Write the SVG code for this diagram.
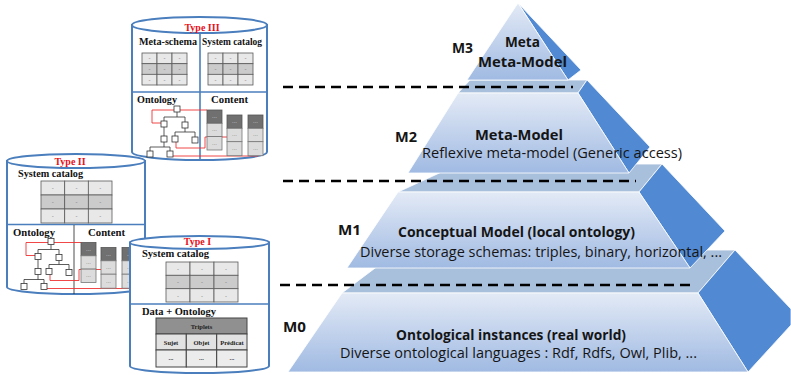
<svg xmlns="http://www.w3.org/2000/svg" width="791" height="375" viewBox="0 0 791 375">
<defs>
<linearGradient id="front" x1="0" y1="0" x2="0" y2="1">
<stop offset="0" stop-color="#e3eaf6"/>
<stop offset="1" stop-color="#a0bae2"/>
</linearGradient>
<style>
.front{fill:url(#front);stroke:#fff;stroke-width:0.8}
.top{fill:#a9c0dd;stroke:#fff;stroke-width:0.8}
.side{fill:#5189d2;stroke:#fff;stroke-width:0.8}
.dash{stroke:#000;stroke-width:2.6;stroke-dasharray:10 6;fill:none}
.pb{font-family:"Open Sans","Noto Sans",sans-serif;font-weight:bold;font-size:14.5px;fill:#151515}
.pr{font-family:"Open Sans","Noto Sans",sans-serif;font-size:14px;fill:#151515}
.cyl{fill:#fff;stroke:#4a7ebd;stroke-width:2}
.div{stroke:#4a7ebd;stroke-width:1.6}
.ttl{font-family:"Liberation Serif",serif;font-weight:bold;font-size:10px;fill:#e8101a;text-anchor:middle}
.lbl{font-family:"Liberation Serif",serif;font-weight:bold;font-size:10px;fill:#111}
.c1{fill:#e8e8e8;stroke:#5a5a5a;stroke-width:0.8}
.c2{fill:#cbcbcb;stroke:#5a5a5a;stroke-width:0.8}
.gd{font-family:"Liberation Sans",sans-serif;font-size:6px;fill:#777;text-anchor:middle}
.bx{fill:#fff;stroke:#333;stroke-width:0.8}
.tl{stroke:#333;stroke-width:0.8;fill:none}
.rl{stroke:#e33;stroke-width:0.9;fill:none}
.kd{fill:#707070;stroke:#555;stroke-width:0.8}
.kl{fill:#dcdcdc;stroke:#777;stroke-width:0.8}
.dd{font-family:"Liberation Sans",sans-serif;font-size:6px;fill:#ddd;text-anchor:middle}
.dl{font-family:"Liberation Sans",sans-serif;font-size:6px;fill:#777;text-anchor:middle}
.tb{font-family:"Liberation Serif",serif;font-weight:bold;font-size:6.5px;fill:#222;text-anchor:middle}
</style>
</defs>

<!-- Pyramid -->
<g id="level-M0">
<polygon class="top" points="399,250 735,250 698,293 342,293"/>
<polygon class="side" points="698,293 735,250 791,309 791,325 748,372"/>
<polygon class="front" points="342,293 698,293 748,372 288,372"/>
<text class="pb" x="396" y="340" textLength="230" lengthAdjust="spacingAndGlyphs">Ontological instances (real world)</text>
<text class="pr" x="340" y="358" textLength="357" lengthAdjust="spacingAndGlyphs">Diverse ontological languages : Rdf, Rdfs, Owl, Plib, ...</text>
<text class="pb" x="283" y="332" textLength="23" lengthAdjust="spacingAndGlyphs">M0</text>
</g>
<g id="level-M1">
<polygon class="top" points="459,164 662,164 639,192 398,192"/>
<polygon class="side" points="639,192 662,164 725,231 690,268"/>
<polygon class="front" points="398,192 639,192 690,268 347,268"/>
<text class="pb" x="398" y="237" textLength="237" lengthAdjust="spacingAndGlyphs">Conceptual Model (local ontology)</text>
<text class="pr" x="360" y="257" textLength="362" lengthAdjust="spacingAndGlyphs">Diverse storage schemas: triples, binary, horizontal, ...</text>
<text class="pb" x="338" y="235" textLength="23" lengthAdjust="spacingAndGlyphs">M1</text>
</g>
<g id="level-M2">
<polygon class="top" points="470,80 587,80 578,93 458,93"/>
<polygon class="side" points="578,93 587,80 650,147 629,173"/>
<polygon class="front" points="458,93 578,93 629,173 408,173"/>
<text class="pb" x="475" y="140" textLength="88" lengthAdjust="spacingAndGlyphs">Meta-Model</text>
<text class="pr" x="422" y="158" textLength="260" lengthAdjust="spacingAndGlyphs">Reflexive meta-model (Generic access)</text>
<text class="pb" x="395" y="142" textLength="22" lengthAdjust="spacingAndGlyphs">M2</text>
</g>
<g id="level-M3">
<polygon class="side" points="518,3 581,70 568,80"/>
<polygon class="front" points="518,3 568,80 467,80"/>
<text class="pb" x="505" y="47" textLength="35" lengthAdjust="spacingAndGlyphs">Meta</text>
<text class="pb" x="478" y="67" textLength="89" lengthAdjust="spacingAndGlyphs">Meta-Model</text>
<text class="pb" x="452" y="53" textLength="21" lengthAdjust="spacingAndGlyphs">M3</text>
</g>

<g id="connectors">
<line class="dash" x1="283" y1="87" x2="573" y2="87"/>
<line class="dash" x1="283" y1="181" x2="636" y2="181"/>
<line class="dash" x1="280" y1="285" x2="696" y2="285"/>
</g>

<!-- Type III -->
<g id="type-III">
<path class="cyl" d="M132,25 V152 A67.5,8 0 0 0 267,152 V25 Z"/>
<ellipse class="cyl" cx="199.5" cy="25" rx="67.5" ry="8"/>
<line class="div" x1="132" y1="92" x2="267" y2="92"/>
<line class="div" x1="200" y1="33" x2="200" y2="159"/>
<text class="ttl" x="202" y="31">Type III</text>
<text class="lbl" x="139" y="45" textLength="58" lengthAdjust="spacingAndGlyphs">Meta-schema</text>
<text class="lbl" x="202" y="45" textLength="60" lengthAdjust="spacingAndGlyphs">System catalog</text>
<g>
<rect class="c1" x="142" y="53" width="15" height="10.7"/><rect class="c1" x="157" y="53" width="15" height="10.7"/><rect class="c1" x="172" y="53" width="15" height="10.7"/>
<rect class="c2" x="142" y="63.7" width="15" height="10.7"/><rect class="c2" x="157" y="63.7" width="15" height="10.7"/><rect class="c2" x="172" y="63.7" width="15" height="10.7"/>
<rect class="c1" x="142" y="74.3" width="15" height="10.7"/><rect class="c1" x="157" y="74.3" width="15" height="10.7"/><rect class="c1" x="172" y="74.3" width="15" height="10.7"/>
<text class="gd" x="149.5" y="60">-</text><text class="gd" x="164.5" y="60">-</text><text class="gd" x="179.5" y="60">-</text>
<text class="gd" x="149.5" y="71">-</text><text class="gd" x="164.5" y="71">-</text><text class="gd" x="179.5" y="71">-</text>
<text class="gd" x="149.5" y="81.5">-</text><text class="gd" x="164.5" y="81.5">-</text><text class="gd" x="179.5" y="81.5">-</text>
</g>
<g>
<rect class="c1" x="208" y="53" width="15" height="10.7"/><rect class="c1" x="223" y="53" width="15" height="10.7"/><rect class="c1" x="238" y="53" width="15" height="10.7"/>
<rect class="c2" x="208" y="63.7" width="15" height="10.7"/><rect class="c2" x="223" y="63.7" width="15" height="10.7"/><rect class="c2" x="238" y="63.7" width="15" height="10.7"/>
<rect class="c1" x="208" y="74.3" width="15" height="10.7"/><rect class="c1" x="223" y="74.3" width="15" height="10.7"/><rect class="c1" x="238" y="74.3" width="15" height="10.7"/>
<text class="gd" x="215.5" y="60">-</text><text class="gd" x="230.5" y="60">-</text><text class="gd" x="245.5" y="60">-</text>
<text class="gd" x="215.5" y="71">-</text><text class="gd" x="230.5" y="71">-</text><text class="gd" x="245.5" y="71">-</text>
<text class="gd" x="215.5" y="81.5">-</text><text class="gd" x="230.5" y="81.5">-</text><text class="gd" x="245.5" y="81.5">-</text>
</g>
<g>
<text class="lbl" x="137" y="103" textLength="40" lengthAdjust="spacingAndGlyphs">Ontology</text>
<text class="lbl" x="211" y="103" textLength="37" lengthAdjust="spacingAndGlyphs">Content</text>
<polyline class="rl" points="207,110 152,110 152,123 161,123"/>
<polyline class="rl" points="176,142 176,148 205,148 205,137 228,137"/>
<polyline class="rl" points="173,156 258,156 258,152"/>
<path class="tl" d="M177,112 V117 M164,117 H185 M164,117 V121 M185,117 V122 M164,127 V136 M185,128 V132 M175,132 H195 M175,132 V136 M195,132 V137 M164,142 V147 M150,147 H170 M150,147 V151 M170,147 V151"/>
<rect class="bx" x="174" y="106" width="6" height="6"/>
<rect class="bx" x="161" y="121" width="6" height="6"/>
<rect class="bx" x="182" y="122" width="6" height="6"/>
<rect class="bx" x="161" y="136" width="6" height="6"/>
<rect class="bx" x="172" y="136" width="6" height="6"/>
<rect class="bx" x="192" y="137" width="6" height="6"/>
<rect class="bx" x="147" y="151" width="6" height="6"/>
<rect class="bx" x="167" y="151" width="6" height="6"/>
<rect class="kd" x="207" y="110" width="15" height="13.3"/><rect class="kl" x="207" y="123.3" width="15" height="13.3"/><rect class="kl" x="207" y="136.6" width="15" height="13.4"/>
<rect class="kd" x="227" y="115" width="15" height="13.3"/><rect class="kl" x="227" y="128.3" width="15" height="13.4"/><rect class="kl" x="227" y="141.7" width="15" height="14"/>
<rect class="kd" x="248" y="115" width="15" height="13.3"/><rect class="kl" x="248" y="128.3" width="15" height="13.4"/><rect class="kl" x="248" y="141.7" width="15" height="14"/>
<text class="dd" x="214.5" y="118">...</text><text class="dl" x="214.5" y="131">...</text><text class="dl" x="214.5" y="144.5">...</text>
<text class="dd" x="234.5" y="123">...</text><text class="dl" x="234.5" y="136">...</text><text class="dl" x="234.5" y="150">...</text>
<text class="dd" x="255.5" y="123">...</text><text class="dl" x="255.5" y="136">...</text><text class="dl" x="255.5" y="150">...</text>
</g>
</g>

<!-- Type II -->
<g id="type-II">
<path class="cyl" d="M7,161 V287 A69,7 0 0 0 145,287 V161 Z"/>
<ellipse class="cyl" cx="76" cy="161" rx="69" ry="7"/>
<line class="div" x1="7" y1="224.5" x2="145" y2="224.5"/>
<line x1="74" y1="225" x2="74" y2="294" stroke="#222" stroke-width="0.8"/>
<text class="ttl" x="70" y="165">Type II</text>
<text class="lbl" x="18" y="177" textLength="65" lengthAdjust="spacingAndGlyphs">System catalog</text>
<g>
<rect class="c1" x="41" y="181" width="23.7" height="14"/><rect class="c1" x="64.7" y="181" width="23.7" height="14"/><rect class="c1" x="88.3" y="181" width="23.7" height="14"/>
<rect class="c2" x="41" y="195" width="23.7" height="14"/><rect class="c2" x="64.7" y="195" width="23.7" height="14"/><rect class="c2" x="88.3" y="195" width="23.7" height="14"/>
<rect class="c1" x="41" y="209" width="23.7" height="14"/><rect class="c1" x="64.7" y="209" width="23.7" height="14"/><rect class="c1" x="88.3" y="209" width="23.7" height="14"/>
<text class="gd" x="52.8" y="190">-</text><text class="gd" x="76.5" y="190">-</text><text class="gd" x="100.2" y="190">-</text>
<text class="gd" x="52.8" y="204">-</text><text class="gd" x="76.5" y="204">-</text><text class="gd" x="100.2" y="204">-</text>
<text class="gd" x="52.8" y="218">-</text><text class="gd" x="76.5" y="218">-</text><text class="gd" x="100.2" y="218">-</text>
</g>
<g transform="translate(-126,132.5)">
<text class="lbl" x="139" y="103" textLength="42" lengthAdjust="spacingAndGlyphs">Ontology</text>
<text class="lbl" x="214" y="103" textLength="37" lengthAdjust="spacingAndGlyphs">Content</text>
<polyline class="rl" points="207,110 152,110 152,123 161,123"/>
<polyline class="rl" points="176,142 176,148 205,148 205,137 228,137"/>
<polyline class="rl" points="173,156 258,156 258,152"/>
<path class="tl" d="M177,112 V117 M164,117 H185 M164,117 V121 M185,117 V122 M164,127 V136 M185,128 V132 M175,132 H195 M175,132 V136 M195,132 V137 M164,142 V147 M150,147 H170 M150,147 V151 M170,147 V151"/>
<rect class="bx" x="174" y="106" width="6" height="6"/>
<rect class="bx" x="161" y="121" width="6" height="6"/>
<rect class="bx" x="182" y="122" width="6" height="6"/>
<rect class="bx" x="161" y="136" width="6" height="6"/>
<rect class="bx" x="172" y="136" width="6" height="6"/>
<rect class="bx" x="192" y="137" width="6" height="6"/>
<rect class="bx" x="147" y="151" width="6" height="6"/>
<rect class="bx" x="167" y="151" width="6" height="6"/>
<rect class="kd" x="207" y="110" width="15" height="13.3"/><rect class="kl" x="207" y="123.3" width="15" height="13.3"/><rect class="kl" x="207" y="136.6" width="15" height="13.4"/>
<rect class="kd" x="227" y="115" width="15" height="13.3"/><rect class="kl" x="227" y="128.3" width="15" height="13.4"/><rect class="kl" x="227" y="141.7" width="15" height="14"/>
<rect class="kd" x="248" y="115" width="15" height="13.3"/><rect class="kl" x="248" y="128.3" width="15" height="13.4"/><rect class="kl" x="248" y="141.7" width="15" height="14"/>
<text class="dd" x="214.5" y="118">...</text><text class="dl" x="214.5" y="131">...</text><text class="dl" x="214.5" y="144.5">...</text>
<text class="dd" x="234.5" y="123">...</text><text class="dl" x="234.5" y="136">...</text><text class="dl" x="234.5" y="150">...</text>
<text class="dd" x="255.5" y="123">...</text><text class="dl" x="255.5" y="136">...</text><text class="dl" x="255.5" y="150">...</text>
</g>
</g>

<!-- Type I -->
<g id="type-I">
<path class="cyl" d="M130,242.5 V366 A69.5,7 0 0 0 269,366 V242.5 Z"/>
<ellipse class="cyl" cx="199.5" cy="242.5" rx="69.5" ry="6.5"/>
<line class="div" x1="130" y1="304" x2="269" y2="304"/>
<text class="ttl" x="197.5" y="245">Type I</text>
<text class="lbl" x="142" y="257" textLength="67" lengthAdjust="spacingAndGlyphs">System catalog</text>
<g>
<rect class="c1" x="166" y="262" width="24" height="13.3"/><rect class="c1" x="190" y="262" width="24" height="13.3"/><rect class="c1" x="214" y="262" width="24" height="13.3"/>
<rect class="c2" x="166" y="275.3" width="24" height="13.4"/><rect class="c2" x="190" y="275.3" width="24" height="13.4"/><rect class="c2" x="214" y="275.3" width="24" height="13.4"/>
<rect class="c1" x="166" y="288.7" width="24" height="13.3"/><rect class="c1" x="190" y="288.7" width="24" height="13.3"/><rect class="c1" x="214" y="288.7" width="24" height="13.3"/>
<text class="gd" x="178" y="270.5">-</text><text class="gd" x="202" y="270.5">-</text><text class="gd" x="226" y="270.5">-</text>
<text class="gd" x="178" y="284">-</text><text class="gd" x="202" y="284">-</text><text class="gd" x="226" y="284">-</text>
<text class="gd" x="178" y="297.5">-</text><text class="gd" x="202" y="297.5">-</text><text class="gd" x="226" y="297.5">-</text>
</g>
<text class="lbl" x="142" y="315" textLength="74" lengthAdjust="spacingAndGlyphs">Data + Ontology</text>
<g>
<rect x="156" y="318" width="91" height="16" fill="#909090" stroke="#444" stroke-width="1"/>
<rect x="156" y="334" width="30.3" height="16" fill="#e2e2e2" stroke="#444" stroke-width="1"/>
<rect x="186.3" y="334" width="30.3" height="16" fill="#e2e2e2" stroke="#444" stroke-width="1"/>
<rect x="216.7" y="334" width="30.3" height="16" fill="#e2e2e2" stroke="#444" stroke-width="1"/>
<rect x="156" y="350" width="30.3" height="17" fill="#ececec" stroke="#444" stroke-width="1"/>
<rect x="186.3" y="350" width="30.3" height="17" fill="#ececec" stroke="#444" stroke-width="1"/>
<rect x="216.7" y="350" width="30.3" height="17" fill="#ececec" stroke="#444" stroke-width="1"/>
<text class="tb" x="201.5" y="328.5">Triplets</text>
<text class="tb" x="171" y="344.5">Sujet</text>
<text class="tb" x="201.5" y="344.5">Objet</text>
<text class="tb" x="232" y="344.5">Prédicat</text>
<text class="tb" x="171" y="360">...</text>
<text class="tb" x="201.5" y="360">...</text>
<text class="tb" x="232" y="360">...</text>
</g>
</g>
</svg>
